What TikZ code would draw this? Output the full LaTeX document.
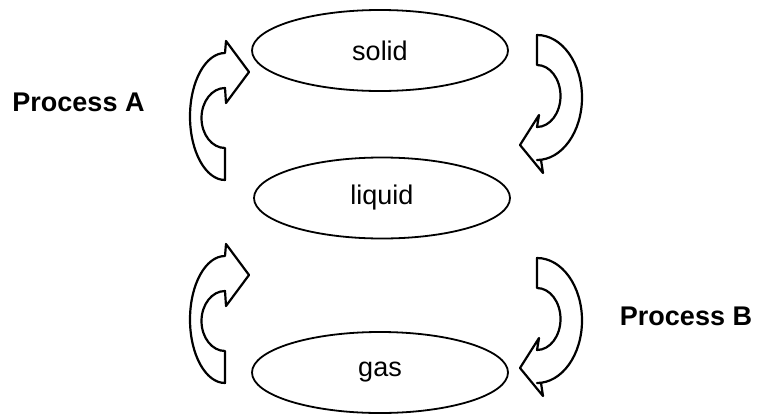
\documentclass[tikz,border=0pt]{standalone}
\usepackage{fontspec}
\setmainfont{Liberation Sans}
\usetikzlibrary{shapes.geometric}
\begin{document}
\begin{tikzpicture}[x=1pt,y=-1pt,
  phase/.style={draw=black, line width=1.8pt, ellipse, minimum width=256pt, minimum height=81pt, inner sep=0pt,
    font=\fontsize{27}{27}\selectfont},
  proclabel/.style={font=\fontsize{27}{27}\selectfont\bfseries, inner sep=0pt},
  curvearrow/.style={draw=black, line width=2.2pt, line join=round, fill=white}]
\useasboundingbox (0,0) rectangle (759,415);

\node[phase] (solid) at (380,50.5) {solid};
\node[phase] (liquid) at (382,198) {liquid};
\node[phase] (gas) at (380,372.5) {gas};

\node[proclabel] (pA) at (78.5,102) {Process A};
\node[proclabel] (pB) at (686,316) {Process B};

% left arrows (pointing up-right)
\foreach \dy in {0,203}{
\begin{scope}[yshift=-\dy pt]
\draw[curvearrow] (225,180) -- (225,148)
  arc[start angle=90, end angle=270, x radius=23.5, y radius=30]
  -- (226,103) -- (249,72) -- (226,41) -- (225,53)
  arc[start angle=270, end angle=90, x radius=35, y radius=63.5]
  -- cycle;
\end{scope}
}

% right arrows (pointing down-left)
\foreach \dy in {0,223}{
\begin{scope}[yshift=-\dy pt]
\draw[curvearrow] (537,35) -- (537,65)
  arc[start angle=-90, end angle=90, x radius=23.5, y radius=31]
  -- (539,115) -- (520,145) -- (543,173) -- (541,160)
  -- (537,160)
  arc[start angle=90, end angle=-90, x radius=45, y radius=62.5]
  -- cycle;
\end{scope}
}
\end{tikzpicture}
\end{document}
